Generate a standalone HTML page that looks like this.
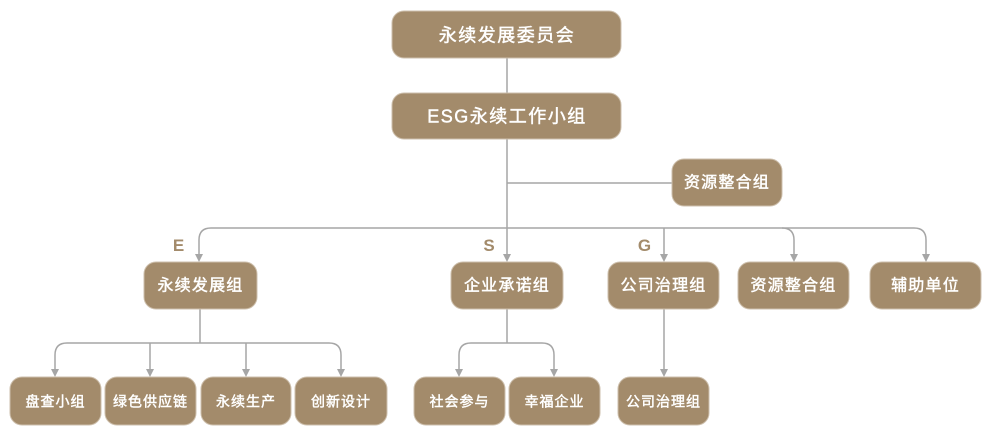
<!DOCTYPE html>
<html><head><meta charset="utf-8"><style>
html,body{margin:0;padding:0;background:#fff;}
svg{display:block;}
text{font-family:"Liberation Sans","Noto Sans CJK SC",sans-serif;fill:#fff;}
.w{stroke:#fff;stroke-width:0.45px;}
.l{fill:#a38b6b;font-weight:bold;}
</style></head><body>
<svg width="982" height="426" viewBox="0 0 982 426" xmlns="http://www.w3.org/2000/svg">
<g fill="none" stroke="#a6a6a6" stroke-width="1.5">
<path d="M507 58V93"/>
<path d="M507 139V228"/>
<path d="M507 183H672"/>
<path d="M211 228H914"/>
<path d="M211 228Q199 228 199 240V255"/>
<path d="M507 228V255"/>
<path d="M664 228V255"/>
<path d="M782 228Q794 228 794 240V255"/>
<path d="M914 228Q926 228 926 240V255"/>
<path d="M200 309V343"/>
<path d="M67 343H329"/>
<path d="M67 343Q55 343 55 355V371"/>
<path d="M150 343V371"/>
<path d="M246 343V371"/>
<path d="M329 343Q341 343 341 355V371"/>
<path d="M507 309V343"/>
<path d="M471 343H542"/>
<path d="M471 343Q459 343 459 355V371"/>
<path d="M542 343Q554 343 554 355V371"/>
<path d="M664 309V371"/>
</g>
<g fill="#a6a6a6">
<path d="M195 254H203L199 262Z"/>
<path d="M503 254H511L507 262Z"/>
<path d="M660 254H668L664 262Z"/>
<path d="M790 254H798L794 262Z"/>
<path d="M922 254H930L926 262Z"/>
<path d="M51 369H59L55 377Z"/>
<path d="M146 369H154L150 377Z"/>
<path d="M242 369H250L246 377Z"/>
<path d="M337 369H345L341 377Z"/>
<path d="M455 369H463L459 377Z"/>
<path d="M550 369H558L554 377Z"/>
<path d="M660 369H668L664 377Z"/>
</g>
<g fill="#a38b6b" stroke="#cdbfac" stroke-width="1">
<rect x="392" y="11" width="229" height="47" rx="12"/>
<rect x="392" y="93" width="229" height="46" rx="12"/>
<rect x="672" y="159" width="110" height="47" rx="12"/>
<rect x="144" y="262" width="113" height="47" rx="12"/>
<rect x="451" y="262" width="112" height="47" rx="12"/>
<rect x="608" y="262" width="111" height="47" rx="12"/>
<rect x="738" y="262" width="111" height="47" rx="12"/>
<rect x="870" y="262" width="111" height="47" rx="12"/>
<rect x="10" y="377" width="91" height="48" rx="12"/>
<rect x="105" y="377" width="91" height="48" rx="12"/>
<rect x="201" y="377" width="90" height="48" rx="12"/>
<rect x="295" y="377" width="92" height="48" rx="12"/>
<rect x="414" y="377" width="91" height="48" rx="12"/>
<rect x="509" y="377" width="91" height="48" rx="12"/>
<rect x="618" y="377" width="91" height="48" rx="12"/>
</g>
<text class="l" x="178.5" y="251" font-size="17" text-anchor="middle">E</text>
<text class="l" x="489" y="251" font-size="17" text-anchor="middle">S</text>
<text class="l" x="644.5" y="251" font-size="17" text-anchor="middle">G</text>
<g text-anchor="middle" dominant-baseline="central" class="w">
<text class="w" x="507" y="35.5" font-size="18" letter-spacing="1.5">永续发展委员会</text>
<text class="w" x="507" y="116.5" font-size="18" letter-spacing="1.5">ESG永续工作小组</text>
<text class="w" x="727" y="183" font-size="16" letter-spacing="1.2">资源整合组</text>
<text class="w" x="200.5" y="286" font-size="16" letter-spacing="1.2">永续发展组</text>
<text class="w" x="507" y="286" font-size="16" letter-spacing="1.2">企业承诺组</text>
<text class="w" x="663.5" y="286" font-size="16" letter-spacing="1.2">公司治理组</text>
<text class="w" x="793.5" y="286" font-size="16" letter-spacing="1.2">资源整合组</text>
<text class="w" x="925.5" y="286" font-size="16" letter-spacing="1.2">辅助单位</text>
<text class="w" x="55.5" y="401.5" font-size="14" letter-spacing="1">盘查小组</text>
<text class="w" x="150.5" y="401.5" font-size="14" letter-spacing="1">绿色供应链</text>
<text class="w" x="246" y="401.5" font-size="14" letter-spacing="1">永续生产</text>
<text class="w" x="341" y="401.5" font-size="14" letter-spacing="1">创新设计</text>
<text class="w" x="459.5" y="401.5" font-size="14" letter-spacing="1">社会参与</text>
<text class="w" x="554.5" y="401.5" font-size="14" letter-spacing="1">幸福企业</text>
<text class="w" x="663.5" y="401.5" font-size="14" letter-spacing="1">公司治理组</text>
</g>
</svg>
</body></html>
